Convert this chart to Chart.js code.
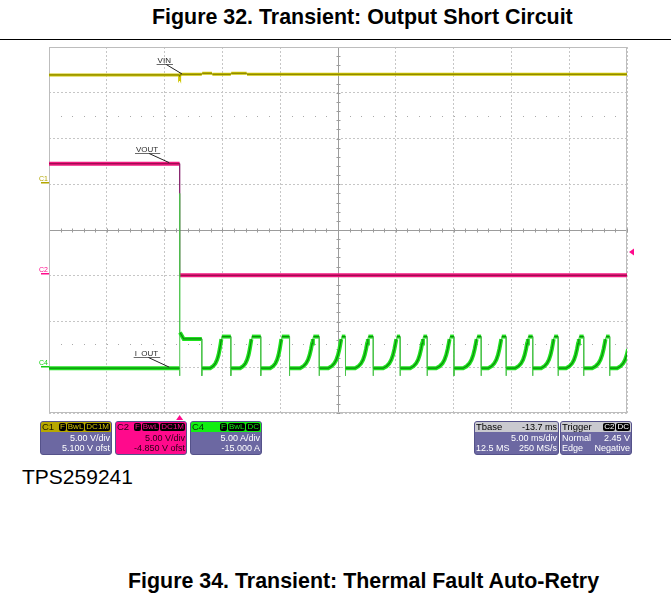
<!DOCTYPE html>
<html>
<head>
<meta charset="utf-8">
<script src="https://cdn.jsdelivr.net/npm/chart.js@4.4.1/dist/chart.umd.min.js"></script>
<style>
  html, body { margin: 0; padding: 0; background: #fff; }
  body { width: 671px; height: 600px; position: relative; overflow: hidden;
         font-family: "Liberation Sans", Arial, Helvetica, sans-serif; }
  .fig { position: absolute; font-weight: bold; font-size: 21.4px; line-height: 21px;
         white-space: nowrap; color: #000; }
  #rule { position: absolute; left: 0; top: 39px; width: 671px; height: 0;
          border-top: 1.5px solid #000; }
  #scope { position: absolute; left: 0; top: 41px; width: 671px; height: 390px; }
  #part { position: absolute; left: 22px; top: 466px; font-size: 21px; line-height: 21px; color: #000; }
  .box { position: absolute; top: 421px; height: 34px; border-radius: 3px; overflow: hidden;
         background: #6c68a2; color: #fff; font-size: 9px; line-height: 10px;
         box-sizing: border-box; border: 1px solid #55528a; }
  .box .hd { position: absolute; left: 0; right: 0; top: 0; height: 10px; padding: 0 1px;
             display: flex; align-items: center; white-space: nowrap; }
  .box .nm { flex: 1; font-size: 9.5px; }
  .box .bd { background: #000; border-radius: 2px; padding: 0 1px; margin-left: 1px;
             font-size: 8px; line-height: 8px; height: 8px; }
  .box .row { position: absolute; left: 1px; right: 1px; white-space: nowrap;
              display: flex; justify-content: flex-end; }
  .box .row.split { justify-content: space-between; }
</style>
</head>
<body>
<div class="fig" id="figTop" style="left:152px; top:7px;">Figure 32. Transient: Output Short Circuit</div>
<div id="rule"></div>
<div id="scope"><canvas id="scopeCanvas"></canvas></div>
<div id="boxes"></div>
<div id="part">TPS259241</div>
<div class="fig" id="figBottom" style="left:128px; top:571px;">Figure 34. Transient: Thermal Fault Auto-Retry</div>

<script>
// ---- acquisition settings -------------------------------------------------
const CH_NAMES        = ['C1', 'C2', 'C4'];
const CH_UNITS        = ['V', 'V', 'A'];
const CH_PER_DIV      = [5.0, 5.0, 5.0];
const CH_OFFSET       = [5.1, -4.85, -15.0];
const CH_OFST_SUFFIX  = [' ofst', ' ofst', ''];
const CH_BADGES       = [['F', 'BwL', 'DC1M'], ['F', 'BwL', 'DC1M'], ['F', 'BwL', 'DC']];
const TIME_PER_DIV    = 5;      // ms/div
const TBASE           = -13.7;  // ms
const SAMPLES_TEXT    = '12.5 MS';
const RATE_TEXT       = '250 MS/s';
const TRIG_SOURCE     = 'C2';
const TRIG_COUPLING   = 'DC';
const TRIG_MODE       = 'Normal';
const TRIG_TYPE       = 'Edge';
const TRIG_SLOPE      = 'Negative';
const TRIG_LEVEL      = 2.45;   // V on C2

// ---- VIN (C1), volts ---------------------------------------------------------
const vinTime  = [-11.3, -0.05, 0, 0.08, 1.92, 1.95, 2.8, 2.83, 4.43, 4.46, 5.8, 5.83, 38.7];
const vinVolts = [11.85, 11.85, 11.7, 11.92, 11.92, 12.03, 12.03, 11.92, 11.92, 12.03, 12.03, 11.92, 11.92];

// ---- VOUT (C2), volts -------------------------------------------------------
const voutTime  = [-11.3, 0, 0, 38.7];
const voutVolts = [12.1, 12.1, -0.1, -0.1];

// ---- I_OUT (C4), amps -------------------------------------------------------
const iOutIdle        = -0.1;   // A before the short and between retries
const iOutLimit       = 3.35;   // A, plateau of each retry
const iOutUndershoot  = -0.94;  // A, dip at each shutdown edge
const shortTime       = [0, 0.03, 0.35, 1.92];     // ms
const shortAmps       = [19.0, 3.8, 3.1, 3.1];     // A  (spike, then current limit)
const retryRampStart  = [2.64, 5.23, 7.83, 10.42, 12.85, 15.18, 17.60, 19.94, 22.19, 24.52, 26.69, 29.02, 31.27, 33.43, 35.68, 37.85];
const retryRampTop    = [3.65, 6.25, 8.84, 11.57, 14.03, 16.33, 18.79, 21.09, 23.40, 25.74, 27.87, 30.17, 32.40, 34.58, 36.89, 39.00];
const retryShutdown   = [4.43, 7.02, 9.50, 12.07, 14.34, 16.74, 19.07, 21.41, 23.73, 26.08, 28.24, 30.54, 32.74, 34.95, 37.20, null];
// shape of one recovery ramp: fraction of ramp time -> fraction of plateau
const rampPhase = [0, 0.25, 0.45, 0.6, 0.72, 0.82, 0.9, 0.96, 1];
const rampLevel = [0, 0.06, 0.15, 0.27, 0.42, 0.6, 0.78, 0.92, 1];

// trace name tags
const traceTags = [
  { text: 'VIN',   axis: 'y1', t: 0.2,  v: 11.85 },
  { text: 'VOUT',  axis: 'y2', t: -0.9, v: 12.1 },
  { text: 'I_OUT', axis: 'y4', t: -0.9, v: -0.1 },
];

// ---- derived scale limits --------------------------------------------------
const X_MIN = -TBASE - 5 * TIME_PER_DIV;
const X_MAX = -TBASE + 5 * TIME_PER_DIV;
const chMin = i => -4 * CH_PER_DIV[i] - CH_OFFSET[i];
const chMax = i =>  4 * CH_PER_DIV[i] - CH_OFFSET[i];

const zipXY = (xs, ys) => xs.map((x, i) => ({ x, y: ys[i] }));
const vinData  = zipXY(vinTime, vinVolts);
const voutData = zipXY(voutTime, voutVolts);

const iOutData = [{ x: X_MIN, y: iOutIdle }, { x: shortTime[0], y: iOutIdle },
                  { x: shortTime[0], y: iOutUndershoot }];
shortTime.forEach((t, i) => iOutData.push({ x: t, y: shortAmps[i] }));
const addShutdown = (t, from) => {
  iOutData.push({ x: t, y: from }, { x: t, y: iOutUndershoot }, { x: t + 0.02, y: iOutIdle });
};
addShutdown(shortTime[shortTime.length - 1], shortAmps[shortAmps.length - 1]);
retryRampStart.forEach((rs, k) => {
  const rt = retryRampTop[k];
  rampPhase.forEach((p, j) => {
    iOutData.push({ x: rs + p * (rt - rs), y: iOutIdle + rampLevel[j] * (iOutLimit - iOutIdle) });
  });
  if (retryShutdown[k] !== null) addShutdown(retryShutdown[k], iOutLimit);
});

// ---- info boxes under the graticule ------------------------------------------
const boxStyles = [
  { left: 40,  width: 72, head: '#b7a800', ink: '#1c1a00', body: '#6c68a2', text: '#fff', badge: '#d2c400' },
  { left: 115, width: 72, head: '#ff0a8c', ink: '#2a0016', body: '#ff0a8c', text: '#2a0016', badge: '#ff0a8c' },
  { left: 190, width: 72, head: '#12ee12', ink: '#062a06', body: '#6c68a2', text: '#fff', badge: '#12ee12' },
];
const boxesEl = document.getElementById('boxes');
const mkBox = (left, width, headBg, bodyBg, color, headHtml, rows) => {
  const b = document.createElement('div');
  b.className = 'box';
  b.style.left = left + 'px'; b.style.width = width + 'px';
  b.style.background = bodyBg; b.style.color = color;
  let html = `<div class="hd" style="background:${headBg}">${headHtml}</div>`;
  rows.forEach((r, i) => {
    const top = 10.5 + i * 10;
    if (Array.isArray(r)) html += `<div class="row split" style="top:${top}px"><span>${r[0]}</span><span>${r[1]}</span></div>`;
    else html += `<div class="row" style="top:${top}px"><span>${r}</span></div>`;
  });
  b.innerHTML = html;
  boxesEl.appendChild(b);
};
CH_NAMES.forEach((nm, i) => {
  const s = boxStyles[i];
  const badges = CH_BADGES[i].map(t => `<span class="bd" style="color:${s.badge}">${t}</span>`).join('');
  mkBox(s.left, s.width, s.head, s.body, s.text,
    `<span class="nm" style="color:${s.ink}">${nm}</span>${badges}`,
    [`${CH_PER_DIV[i].toFixed(2)} ${CH_UNITS[i]}/div`,
     `${CH_OFFSET[i].toFixed(3)} ${CH_UNITS[i]}${CH_OFST_SUFFIX[i]}`]);
});
mkBox(474, 85, '#c9c9cf', '#6c68a2', '#fff',
  `<span class="nm" style="color:#000">Tbase</span><span style="color:#000">${TBASE.toFixed(1)} ms</span>`,
  [`${TIME_PER_DIV.toFixed(2)} ms/div`, [SAMPLES_TEXT, RATE_TEXT]]);
mkBox(560, 72, '#c9c9cf', '#6c68a2', '#fff',
  `<span class="nm" style="color:#000">Trigger</span><span class="bd" style="color:#fff">${TRIG_SOURCE}</span><span class="bd" style="color:#fff">${TRIG_COUPLING}</span>`,
  [[TRIG_MODE, `${TRIG_LEVEL.toFixed(2)} V`], [TRIG_TYPE, TRIG_SLOPE]]);

// ---- graticule extras, markers and trace tags ---------------------------------
const FONT = '"Liberation Sans", Arial, sans-serif';
const scopeOverlay = {
  id: 'scopeOverlay',
  beforeDatasetsDraw(chart) {
    const { ctx, chartArea: a, scales } = chart;
    const x = scales.x, y = scales.y4;
    const vDiv = CH_PER_DIV[2];
    const xc = (x.min + x.max) / 2, yc = (y.min + y.max) / 2;
    ctx.save();
    // sparse dotted rows half a division inside the outer rows
    ctx.fillStyle = '#a9a9a9';
    [2.5, -2.5].forEach(d => {
      const py = Math.round(y.getPixelForValue(yc + d * vDiv));
      for (let t = x.min; t <= x.max + 1e-6; t += TIME_PER_DIV / 5) {
        ctx.fillRect(Math.round(x.getPixelForValue(t)), py, 1, 1);
      }
    });
    // centre cross with minor ticks
    const cx = Math.round(x.getPixelForValue(xc)) + 0.5;
    const cy = Math.round(y.getPixelForValue(yc)) + 0.5;
    ctx.strokeStyle = '#9c9c9c';
    ctx.lineWidth = 1;
    ctx.beginPath();
    ctx.moveTo(a.left, cy); ctx.lineTo(a.right, cy);
    ctx.moveTo(cx, a.top); ctx.lineTo(cx, a.bottom);
    for (let t = x.min; t <= x.max + 1e-6; t += TIME_PER_DIV / 5) {
      const px = Math.round(x.getPixelForValue(t)) + 0.5;
      ctx.moveTo(px, cy - 2); ctx.lineTo(px, cy + 2);
    }
    for (let v = y.min; v <= y.max + 1e-6; v += vDiv / 5) {
      const py = Math.round(y.getPixelForValue(v)) + 0.5;
      ctx.moveTo(cx - 2, py); ctx.lineTo(cx + 2, py);
    }
    ctx.stroke();
    // frame
    ctx.strokeStyle = '#bdbdbd';
    ctx.strokeRect(a.left + 0.5, a.top + 0.5, a.right - a.left - 1, a.bottom - a.top - 1);
    ctx.restore();
  },
  afterDatasetsDraw(chart) {
    const { ctx, chartArea: a, scales } = chart;
    const x = scales.x;
    ctx.save();
    // channel ground markers at the left edge
    const gColors = ['#b3a600', '#ff0a8c', '#10d010'];
    ['y1', 'y2', 'y4'].forEach((id, i) => {
      const gy = Math.round(scales[id].getPixelForValue(0));
      ctx.fillStyle = gColors[i];
      ctx.fillRect(a.left - 8, gy - 1, 8, 1.5);
      ctx.font = `7px ${FONT}`;
      ctx.textAlign = 'left'; ctx.textBaseline = 'alphabetic';
      ctx.fillText(CH_NAMES[i], a.left - 10, gy - 2);
    });
    // trigger level (right) and trigger time (bottom)
    ctx.fillStyle = '#ff0a8c';
    const ty = scales.y2.getPixelForValue(TRIG_LEVEL);
    ctx.beginPath();
    ctx.moveTo(a.right + 2, ty); ctx.lineTo(a.right + 7, ty - 3.5); ctx.lineTo(a.right + 7, ty + 3.5);
    ctx.closePath(); ctx.fill();
    const tx = x.getPixelForValue(0);
    ctx.beginPath();
    ctx.moveTo(tx, a.bottom + 2); ctx.lineTo(tx - 3.5, a.bottom + 7); ctx.lineTo(tx + 3.5, a.bottom + 7);
    ctx.closePath(); ctx.fill();
    // trace tags with underline and leader
    ctx.font = `8px ${FONT}`;
    ctx.textAlign = 'right'; ctx.textBaseline = 'alphabetic';
    traceTags.forEach(tag => {
      const px = x.getPixelForValue(tag.t);
      const py = scales[tag.axis].getPixelForValue(tag.v);
      const right = px - 11, uy = Math.round(py - 11) + 0.5;
      const w = ctx.measureText(tag.text).width;
      ctx.fillStyle = '#2a2a2a';
      ctx.fillText(tag.text, right, uy - 2);
      ctx.strokeStyle = '#6a6a6a'; ctx.lineWidth = 1;
      ctx.beginPath();
      ctx.moveTo(right - w - 1, uy); ctx.lineTo(right + 2, uy);
      ctx.stroke();
      ctx.strokeStyle = '#222';
      ctx.beginPath();
      ctx.moveTo(right - w / 2 + 2, uy); ctx.lineTo(px, py - 1);
      ctx.stroke();
    });
    ctx.restore();
  }
};

// ---- traces ---------------------------------------------------------------------
const isEdge = c => Math.abs(c.p1.parsed.x - c.p0.parsed.x) < 0.05;
const traceLayers = (data, axis, outer, inner, edge, outerW, innerW) => [
  { data, yAxisID: axis, borderColor: inner, borderWidth: innerW,
    segment: { borderColor: c => isEdge(c) ? 'rgba(0,0,0,0)' : undefined } },
  { data, yAxisID: axis, borderColor: outer, borderWidth: outerW,
    segment: { borderColor: c => isEdge(c) ? edge : undefined,
               borderWidth: c => isEdge(c) ? 1 : undefined } },
];

const datasets = [
  ...traceLayers(iOutData, 'y4', '#1fe21f', '#0c8c0c', '#4cc44c', 4, 1.2),
  ...traceLayers(voutData, 'y2', '#f0187f', '#a00c52', '#8a2a70', 4, 1.2),
  ...traceLayers(vinData,  'y1', '#cfc600', '#7e7800', '#8a8600', 3, 1),
].map(d => Object.assign({ pointRadius: 0, tension: 0, fill: false,
                           borderJoinStyle: 'miter' }, d));

const hiddenAxis = (i) => ({ type: 'linear', display: false, min: chMin(i), max: chMax(i) });

new Chart(document.getElementById('scopeCanvas'), {
  type: 'line',
  data: { datasets },
  options: {
    responsive: true,
    maintainAspectRatio: false,
    animation: false,
    events: [],
    parsing: true,
    layout: { padding: { left: 49, right: 44, top: 6, bottom: 18 } },
    plugins: { legend: { display: false }, tooltip: { enabled: false } },
    scales: {
      x: {
        type: 'linear', min: X_MIN, max: X_MAX,
        afterBuildTicks: s => {
          s.ticks = [];
          for (let k = 0; k <= 10; k++) s.ticks.push({ value: s.min + k * TIME_PER_DIV });
        },
        ticks: { display: false },
        grid: { color: '#c6c6c6', lineWidth: 1, drawTicks: false },
        border: { display: false, dash: [2, 2] },
      },
      y1: hiddenAxis(0),
      y2: hiddenAxis(1),
      y4: {
        type: 'linear', position: 'left', min: chMin(2), max: chMax(2),
        ticks: { display: false, stepSize: CH_PER_DIV[2] },
        grid: { color: '#c6c6c6', lineWidth: 1, drawTicks: false },
        border: { display: false, dash: [2, 2] },
      },
    },
  },
  plugins: [scopeOverlay],
});
</script>
</body>
</html>
